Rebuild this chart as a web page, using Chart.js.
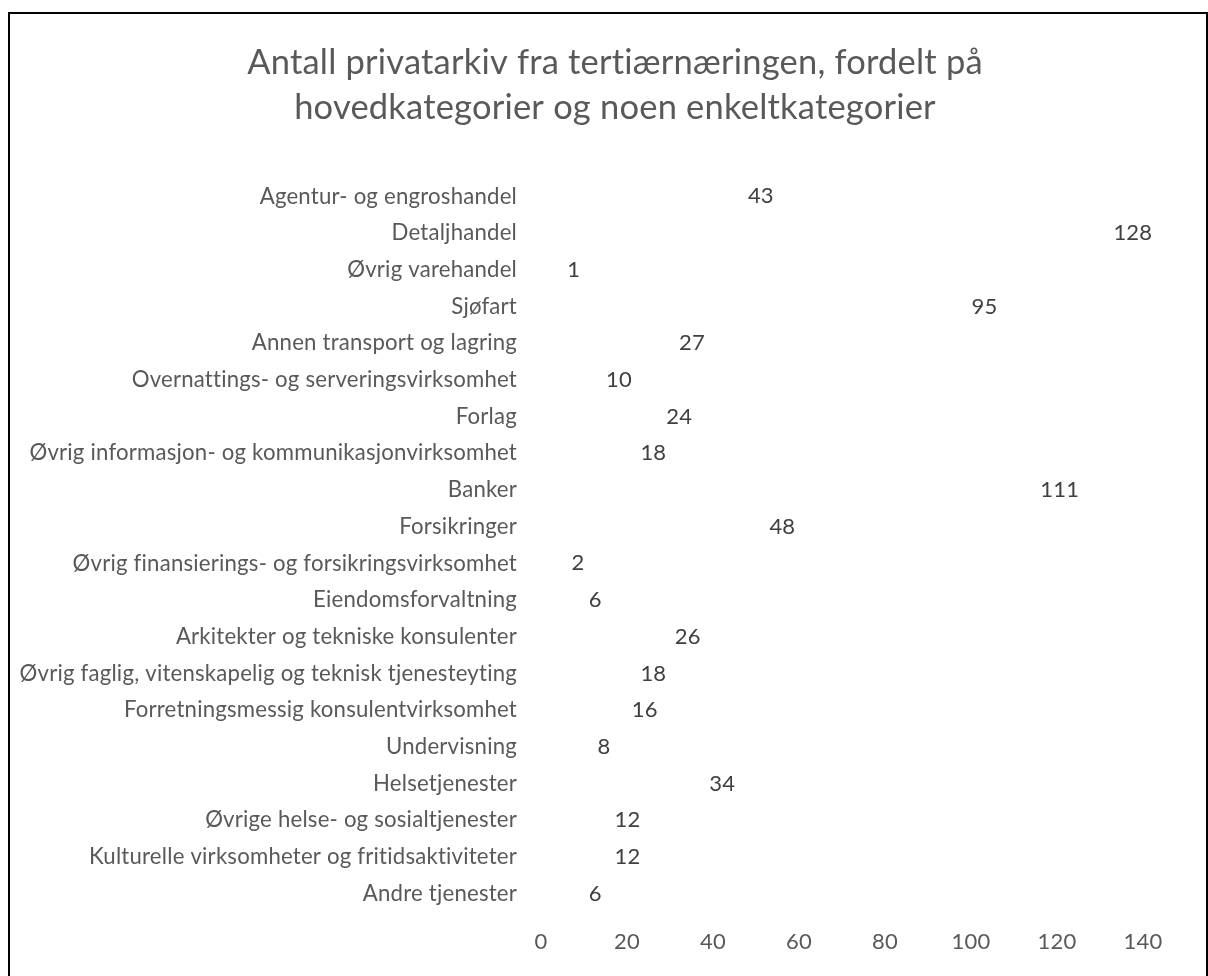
<!DOCTYPE html>
<html>
<head>
<meta charset="utf-8">
<script src="https://cdn.jsdelivr.net/npm/chart.js@4"></script>
<style>
    html, body { margin: 0; padding: 0; background: #fff; }
    #wrap { position: relative; width: 1208px; height: 976px; }
    #frame {
        position: absolute; left: 8px; top: 12px; width: 1196px; height: 970px;
        border: 2px solid #000; pointer-events: none;
    }
</style>
</head>
<body>
<div id="wrap">
    <canvas id="chart" width="1208" height="976"></canvas>
    <div id="frame"></div>
</div>
<script>
// Data
const categories = [
    'Agentur- og engroshandel',
    'Detaljhandel',
    'Øvrig varehandel',
    'Sjøfart',
    'Annen transport og lagring',
    'Overnattings- og serveringsvirksomhet',
    'Forlag',
    'Øvrig informasjon- og kommunikasjonvirksomhet',
    'Banker',
    'Forsikringer',
    'Øvrig finansierings- og forsikringsvirksomhet',
    'Eiendomsforvaltning',
    'Arkitekter og tekniske konsulenter',
    'Øvrig faglig, vitenskapelig og teknisk tjenesteyting',
    'Forretningsmessig konsulentvirksomhet',
    'Undervisning',
    'Helsetjenester',
    'Øvrige helse- og sosialtjenester',
    'Kulturelle virksomheter og fritidsaktiviteter',
    'Andre tjenester'
];
const counts = [43, 128, 1, 95, 27, 10, 24, 18, 111, 48, 2, 6, 26, 18, 16, 8, 34, 12, 12, 6];
const titleLines = [
    'Antall privatarkiv fra tertiærnæringen, fordelt på',
    'hovedkategorier og noen enkeltkategorier'
];

const FONT = "Lato, sans-serif";
const GREY = '#595959';

// A hair of letter spacing keeps Lato from merging "ti" / "fi" into ligatures
const noLigatures = {
    id: 'noLigatures',
    beforeDraw(chart) { chart.ctx.letterSpacing = '0.2px'; }
};

// Title, centred over the framed area rather than the canvas
const titleDraw = {
    id: 'titleDraw',
    afterDraw(chart) {
        const ctx = chart.ctx;
        ctx.save();
        ctx.font = '34.5px ' + FONT;
        ctx.fillStyle = GREY;
        ctx.textAlign = 'center';
        ctx.textBaseline = 'middle';
        titleLines.forEach((line, i) => ctx.fillText(line, 615, 63 + i * 45));
        ctx.restore();
    }
};

// Value labels drawn just past the end of each (invisible) bar
const valueLabels = {
    id: 'valueLabels',
    afterDatasetsDraw(chart) {
        const ctx = chart.ctx;
        const meta = chart.getDatasetMeta(0);
        ctx.save();
        ctx.font = '22px ' + FONT;
        ctx.fillStyle = '#404040';
        ctx.textAlign = 'left';
        ctx.textBaseline = 'middle';
        meta.data.forEach((bar, i) => {
            ctx.fillText(String(counts[i]), bar.x + 22, bar.y);
        });
        ctx.restore();
    }
};

new Chart(document.getElementById('chart').getContext('2d'), {
    type: 'bar',
    data: {
        labels: categories,
        datasets: [{
            data: counts,
            backgroundColor: 'rgba(0,0,0,0)',
            borderWidth: 0
        }]
    },
    options: {
        indexAxis: 'y',
        responsive: false,
        animation: false,
        layout: { padding: { top: 178, right: 65, bottom: 0, left: 0 } },
        plugins: {
            legend: { display: false },
            tooltip: { enabled: false },
            title: { display: false }
        },
        scales: {
            x: {
                min: 0,
                max: 140,
                ticks: {
                    stepSize: 20,
                    color: GREY,
                    padding: 9,
                    font: { family: FONT, size: 22 }
                },
                grid: { display: false },
                border: { display: false },
                afterFit(scale) { scale.height = 64; }
            },
            y: {
                ticks: {
                    color: GREY,
                    padding: 16,
                    autoSkip: false,
                    font: { family: FONT, size: 22.2 }
                },
                grid: { display: false },
                border: { display: false },
                afterFit(scale) { scale.width = 541; }
            }
        }
    },
    plugins: [noLigatures, valueLabels, titleDraw]
});
</script>
</body>
</html>
